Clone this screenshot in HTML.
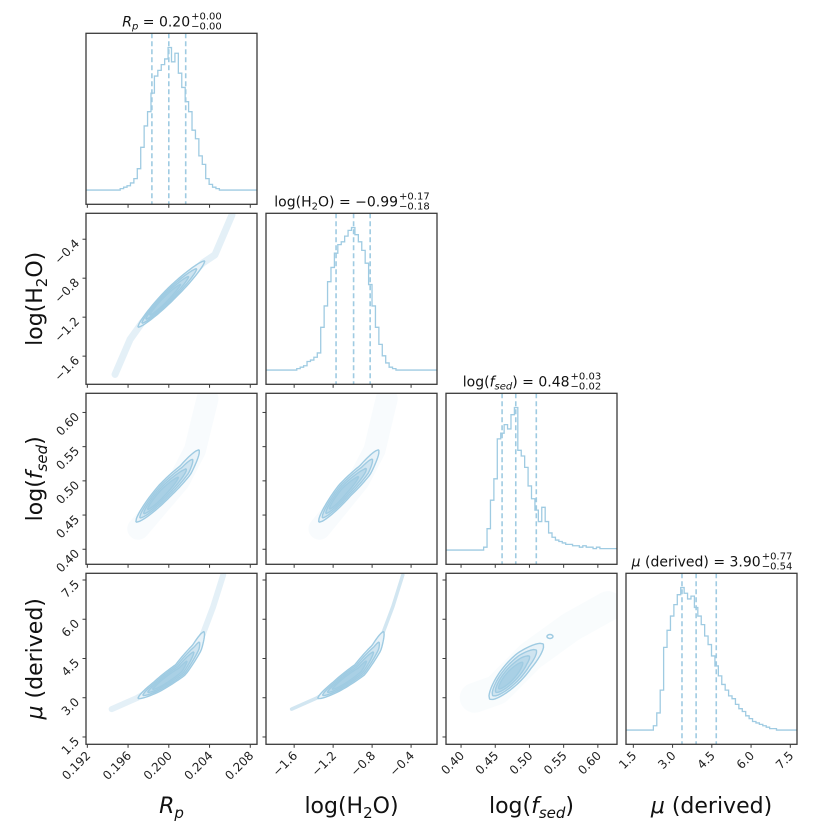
<!DOCTYPE html>
<html><head><meta charset="utf-8"><style>
html,body{margin:0;padding:0;background:#fff;}
svg{display:block;font-family:"DejaVu Sans","Liberation Sans",sans-serif;}
</style></head><body>
<svg id="chart" width="831" height="831" viewBox="0 0 831 831"></svg>
<script>
// ---- data ----
const paramNames = ["Rp","H2O","fsed","mu"];
const axisRanges = [[0.19187,0.20866],[-1.889,-0.134],[0.378,0.628],[1.22,7.756]];
const tickValues = [[0.192,0.196,0.200,0.204,0.208],[-1.6,-1.2,-0.8,-0.4],[0.40,0.45,0.50,0.55,0.60],[1.5,3.0,4.5,6.0,7.5]];
const tickLabels = [["0.192","0.196","0.200","0.204","0.208"],["−1.6","−1.2","−0.8","−0.4"],["0.40","0.45","0.50","0.55","0.60"],["1.5","3.0","4.5","6.0","7.5"]];
const quantiles = [[0.19834,0.2000,0.20166],[-1.17,-0.99,-0.82],[0.46,0.48,0.51],[3.36,3.90,4.67]];
const histRp   = [0,0,0,0,0,0,0,0,0,0,1,2,3,5,8,15,30,45,55,68,80,84,88,92,100,90,96,82,72,62,55,42,36,24,18,8,4,2,1,0,0,0,0,0,0,0,0,0,0,0];
const histH2O  = [0,0,0,0,0,0,0,0,0,1,2,3,6,7,9,12,30,45,62,72,82,88,90,94,98,100,95,90,84,75,60,45,30,18,10,5,2,1,0,0,0,0,0,0,0,0,0,0,0,0];
const histFsed = [0,0,0,0,0,0,0,0,0,0,0,2,15,35,50,78,82,88,85,95,100,70,66,58,45,36,28,20,30,20,12,9,7,6,5,4,4,3,3,2,3,2,2,1,2,1,1,1,1,1];
const histMu   = [0,0,0,0,0,0,0,0,3,12,28,58,70,80,88,95,100,96,92,94,86,80,74,66,60,52,45,38,32,28,24,22,18,15,13,10,8,6,5,4,3,2,1,1,0,0,0,0,0,0];
// scatter ridges (data coords)
const ridgeRpH2O_x = [0.19472,0.19619,0.19737,0.20336,0.20453,0.20620];
const ridgeRpH2O_y = [-1.787,-1.430,-1.256,-0.642,-0.560,-0.151];
const ridgeRpFsed_x = [0.19700,0.19900,0.20100,0.20257,0.20380];
const ridgeRpFsed_y = [0.430,0.465,0.500,0.545,0.620];
const ridgeH2OFsed_x = [-1.340,-1.140,-0.940,-0.775,-0.650];
const ridgeH2OFsed_y = [0.430,0.465,0.500,0.545,0.620];
const ridgeRpMu_x = [0.19439,0.19685,0.19885,0.20114,0.20273,0.20338,0.20436,0.20534];
const ridgeRpMu_y = [2.565,2.985,3.428,4.065,4.893,5.466,6.481,7.691];
const ridgeH2OMu_x = [-1.626,-1.371,-1.166,-0.928,-0.757,-0.690,-0.587,-0.485];
const ridgeH2OMu_y = [2.565,2.985,3.428,4.065,4.893,5.466,6.481,7.691];
const ridgeFsedMu_x = [0.420,0.4524,0.5009,0.560,0.615];
const ridgeFsedMu_y = [3.00,3.30,4.58,5.70,6.50];
// contour spines (data coords)
const contRpH2O_x = [0.19700,0.20031,0.20350];
const contRpH2O_y = [-1.30,-0.949,-0.625];
const contRpFsed_x = [0.1968,0.19963,0.20159,0.20296];
const contRpFsed_y = [0.440,0.486,0.515,0.545];
const contH2OFsed_x = [-1.345,-1.081,-0.877,-0.734];
const contH2OFsed_y = [0.440,0.486,0.515,0.545];
const contRpMu_x = [0.19700,0.19885,0.20114,0.20273,0.20345];
const contRpMu_y = [2.98,3.428,4.065,4.893,5.52];
const contH2OMu_x = [-1.355,-1.166,-0.928,-0.757,-0.683];
const contH2OMu_y = [2.98,3.428,4.065,4.893,5.52];
const contFsedMu_x = [0.4420,0.4668,0.4911,0.5200];
const contFsedMu_y = [2.95,3.683,4.382,5.05];
const blobFsedMu = [0.530,5.34];

const NS="http://www.w3.org/2000/svg";
const svg=document.getElementById('chart');
const BLUE="#a6cee3", LINE="#9fcbe2", FRAME="#3a3a3a";
const P0X=86,P0Y=33.3,PITCH=180,S=171;
function mk(tag,attrs,parent){const e=document.createElementNS(NS,tag);for(const k in attrs)e.setAttribute(k,attrs[k]);(parent||svg).appendChild(e);return e;}
function sx(c,v){const r=axisRanges[c];return P0X+PITCH*c+(v-r[0])/(r[1]-r[0])*S;}
function sy(r,v){const a=axisRanges[r];return P0Y+PITCH*r+S-(v-a[0])/(a[1]-a[0])*S;}
function pathFrom(pts){return pts.map((p,i)=>(i?'L':'M')+p[0].toFixed(2)+' '+p[1].toFixed(2)).join(' ');}
function resample(pts,t0,t1,N){
  const L=[0];for(let i=1;i<pts.length;i++)L.push(L[i-1]+Math.hypot(pts[i][0]-pts[i-1][0],pts[i][1]-pts[i-1][1]));
  const T=L[L.length-1];
  function at(d){for(let i=1;i<pts.length;i++){if(d<=L[i]+1e-9){const f=(d-L[i-1])/(L[i]-L[i-1]||1);return [pts[i-1][0]+f*(pts[i][0]-pts[i-1][0]),pts[i-1][1]+f*(pts[i][1]-pts[i-1][1])];}}return pts[pts.length-1];}
  const out=[];for(let j=0;j<=N;j++)out.push(at((t0+(t1-t0)*j/N)*T));return out;
}
function lens(pts,t0,t1,w){
  const N=40,p=resample(pts,t0,t1,N),L=[],R=[];
  for(let j=0;j<=N;j++){
    const a=p[Math.max(j-1,0)],b=p[Math.min(j+1,N)];let dx=b[0]-a[0],dy=b[1]-a[1];const n=Math.hypot(dx,dy)||1;dx/=n;dy/=n;
    const s=j/N;const ww=Math.max(w*Math.pow(Math.sin(Math.PI*s),0.55),0.4);
    L.push([p[j][0]-dy*ww,p[j][1]+dx*ww]);R.push([p[j][0]+dy*ww,p[j][1]-dx*ww]);
  }
  return pathFrom(L.concat(R.reverse()))+' Z';
}
const hists=[histRp,histH2O,histFsed,histMu];
const ridges={"1,0":[ridgeRpH2O_x,ridgeRpH2O_y,7,0.3],"2,0":[ridgeRpFsed_x,ridgeRpFsed_y,22,0.08],"2,1":[ridgeH2OFsed_x,ridgeH2OFsed_y,22,0.08],"3,0":[ridgeRpMu_x,ridgeRpMu_y,6,0.3],"3,1":[ridgeH2OMu_x,ridgeH2OMu_y,3.5,0.5],"3,2":[ridgeFsedMu_x,ridgeFsedMu_y,30,0.07]};
const conts={"1,0":[contRpH2O_x,contRpH2O_y,6],"2,0":[contRpFsed_x,contRpFsed_y,8],"2,1":[contH2OFsed_x,contH2OFsed_y,8],"3,0":[contRpMu_x,contRpMu_y,7],"3,1":[contH2OMu_x,contH2OMu_y,7],"3,2":[contFsedMu_x,contFsedMu_y,11]};
const fills=["#e8f2f8","#cfe4f0","#bad9ea","#a9d0e5"];

for(let r=0;r<4;r++)for(let c=0;c<=r;c++){
  const x0=P0X+PITCH*c,y0=P0Y+PITCH*r;
  const g=mk('g',{});
  
  
  const cp='cp'+r+c;const clip=mk('clipPath',{id:cp},g);mk('rect',{x:x0,y:y0,width:S,height:S},clip);
  const inner=mk('g',{'clip-path':'url(#'+cp+')'},g);
  if(r===c){
    const h=hists[c],mx=Math.max(...h),n=h.length,bw=S/n;
    const yv=v=>y0+S-(v+0.1*mx)/(1.2*mx)*S;
    let d='M'+x0+' '+yv(h[0]);
    for(let i=0;i<n;i++){d+=' L'+(x0+i*bw).toFixed(2)+' '+yv(h[i]).toFixed(2)+' L'+(x0+(i+1)*bw).toFixed(2)+' '+yv(h[i]).toFixed(2);}
    const hp=mk('path',{d:d,fill:'none',stroke:LINE,'stroke-width':1.3},inner);
    
    
    quantiles[c].forEach(q=>{const X=sx(c,q);const ql=mk('line',{x1:X,x2:X,y1:y0,y2:y0+S,stroke:LINE,'stroke-width':1.6,'stroke-dasharray':'5,3'},inner);
      
      });
  } else {
    const key=r+','+c;
    const rd=ridges[key];
    const rp=rd[0].map((v,i)=>[sx(c,v),sy(r,rd[1][i])]);
    const sc=mk('path',{d:pathFrom(rp),fill:'none',stroke:BLUE,'stroke-width':rd[2],'stroke-opacity':rd[3],'stroke-linecap':'round','stroke-linejoin':'round'},inner);
    
    
    const ct=conts[key];
    const cpnts=ct[0].map((v,i)=>[sx(c,v),sy(r,ct[1][i])]);
    for(let k=0;k<4;k++){
      const w=ct[2]*(1-k*0.2);
      const o=mk('path',{d:lens(cpnts,k*0.06,1-k*0.12,w),fill:fills[k],stroke:LINE,'stroke-width':1.4,'stroke-linejoin':'round'},inner);
      
      
    }
    if(key==="3,2"){const b=mk('ellipse',{cx:sx(2,blobFsedMu[0]),cy:sy(3,blobFsedMu[1]),rx:3,ry:2,fill:'none',stroke:LINE,'stroke-width':1.5},inner);
      
      }
    tickValues[r].forEach(v=>{const Y=sy(r,v);mk('line',{x1:x0,x2:x0-3.5,y1:Y,y2:Y,stroke:FRAME,'stroke-width':1},g);});
  }
  tickValues[c].forEach(v=>{const X=sx(c,v);mk('line',{x1:X,x2:X,y1:y0+S,y2:y0+S+3.5,stroke:FRAME,'stroke-width':1},g);});
  const fr=mk('rect',{x:x0,y:y0,width:S,height:S,fill:'none',stroke:FRAME,'stroke-width':1.3},g);
  
  
}
// tick labels
for(let c=0;c<4;c++){tickValues[c].forEach((v,i)=>{const X=sx(c,v),Y=P0Y+PITCH*3+S+8;
  const t=mk('text',{x:X+4,y:Y+4,'font-size':12,'text-anchor':'end',transform:'rotate(-45 '+(X+4)+' '+(Y+4)+')',fill:'#222'});t.textContent=tickLabels[c][i];
  
  });}
for(let r=1;r<4;r++){tickValues[r].forEach((v,i)=>{const Y=sy(r,v),X=P0X-6;
  const t=mk('text',{x:X,y:Y+5,'font-size':12,'text-anchor':'end',transform:'rotate(-45 '+X+' '+(Y+5)+')',fill:'#222'});t.textContent=tickLabels[r][i];
  
  });}
// axis labels
function label(x,y,parts,rot,name){
  const t=mk('text',{x:x,y:y,'font-size':22,'text-anchor':'middle',fill:'#111'});
  if(rot)t.setAttribute('transform','rotate(-90 '+x+' '+y+')');
  parts.forEach(p=>{const s=mk('tspan',{},t);s.textContent=p[0];if(p[1]==='i')s.setAttribute('font-style','italic');if(p[1]==='sub'){s.setAttribute('font-size',15);s.setAttribute('dy',5);}if(p[1]==='isub'){s.setAttribute('font-size',15);s.setAttribute('dy',5);s.setAttribute('font-style','italic');}if(p[1]==='back'){s.setAttribute('dy',-5);}});
  
  
}
const cx=c=>P0X+PITCH*c+S/2, cy=r=>P0Y+PITCH*r+S/2;
label(cx(0),813,[["R","i"],["p","isub"]],false,'x-axis-title-rp');
label(cx(1),813,[["log(H",""],["2","sub"],["O)","back"]],false,'x-axis-title-h2o');
label(cx(2),813,[["log(",""],["f","i"],["sed","isub"],[")","back"]],false,'x-axis-title-fsed');
label(cx(3),813,[["μ","i"],[" (derived)",""]],false,'x-axis-title-mu');
label(42,cy(1),[["log(H",""],["2","sub"],["O)","back"]],true,'y-axis-title-h2o');
label(42,cy(2),[["log(",""],["f","i"],["sed","isub"],[")","back"]],true,'y-axis-title-fsed');
label(42,cy(3),[["μ","i"],[" (derived)",""]],true,'y-axis-title-mu');
// titles
const titleMain=[[["R","i"],["p","isub"],[" = 0.20","back"]],[["log(H",""],["2","sub"],["O) = −0.99","back"]],[["log(",""],["f","i"],["sed","isub"],[") = 0.48","back"]],[["μ","i"],[" (derived) = 3.90",""]]];
const titleUp=["+0.00","+0.17","+0.03","+0.77"], titleDn=["−0.00","−0.18","−0.02","−0.54"];
for(let k=0;k<4;k++){
  const g=mk('g',{});
  
  
  const by=P0Y+PITCH*k-7;
  const t=mk('text',{x:0,y:by,'font-size':14,fill:'#111'},g);
  titleMain[k].forEach(p=>{const s=mk('tspan',{},t);s.textContent=p[0];if(p[1]==='i')s.setAttribute('font-style','italic');if(p[1]==='sub'||p[1]==='isub'){s.setAttribute('font-size',10);s.setAttribute('dy',3);if(p[1]==='isub')s.setAttribute('font-style','italic');}if(p[1]==='back')s.setAttribute('dy',-3);});
  const up=mk('text',{x:0,y:by-7,'font-size':10,fill:'#111'},g);up.textContent=titleUp[k];
  const dn=mk('text',{x:0,y:by+3,'font-size':10,fill:'#111'},g);dn.textContent=titleDn[k];
  const w1=t.getComputedTextLength(),w2=Math.max(up.getComputedTextLength(),dn.getComputedTextLength());
  const x0=cx(k)-(w1+w2)/2;
  t.setAttribute('x',x0);up.setAttribute('x',x0+w1+1);dn.setAttribute('x',x0+w1+1);
}
</script>
</body></html>
